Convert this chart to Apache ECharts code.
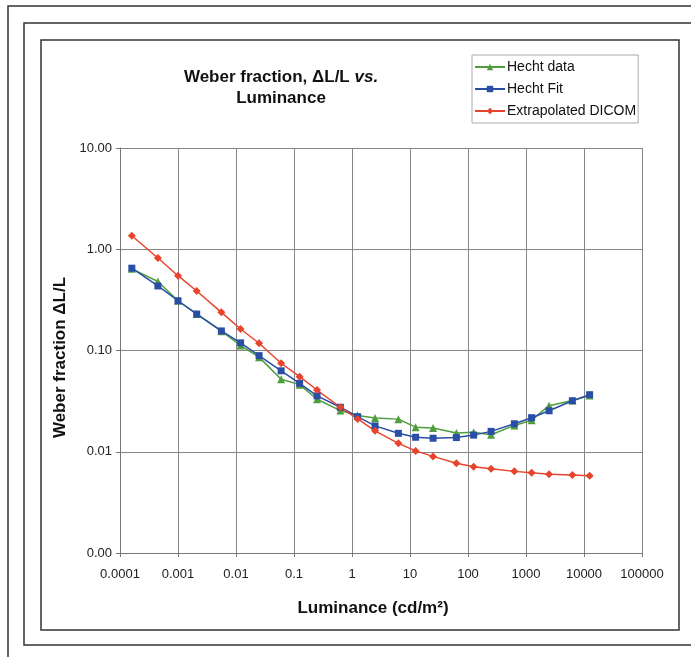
<!DOCTYPE html>
<html>
<head>
<meta charset="utf-8">
<title>Weber fraction vs Luminance</title>
<script src="https://cdn.jsdelivr.net/npm/echarts@6/dist/echarts.min.js"></script>
<style>
  html, body { margin: 0; padding: 0; background: #fff; }
  #chart { width: 691px; height: 657px; }
</style>
</head>
<body>
<div id="chart"></div>
<script>
// luminance values (cd/m2), shared by all three series
const luminance = [0.00016, 0.00045, 0.001, 0.0021, 0.0056, 0.012, 0.025, 0.06, 0.125, 0.25,
  0.63, 1.25, 2.5, 6.3, 12.5, 25, 63, 125, 250, 630, 1250, 2500, 6300, 12500];

const hechtData = [0.64, 0.48, 0.31, 0.23, 0.155, 0.112, 0.086, 0.052, 0.046, 0.033,
  0.0255, 0.0228, 0.0216, 0.021, 0.0175, 0.0172, 0.0153, 0.0156, 0.0147, 0.0182,
  0.0205, 0.0285, 0.032, 0.036];

const hechtFit = [0.65, 0.434, 0.31, 0.229, 0.156, 0.119, 0.089, 0.063, 0.0474, 0.0356,
  0.0275, 0.0222, 0.018, 0.0152, 0.0139, 0.0136, 0.0138, 0.0146, 0.0159, 0.0189,
  0.0217, 0.0254, 0.0319, 0.0366];

const dicom = [1.36, 0.82, 0.548, 0.387, 0.238, 0.163, 0.118, 0.0748, 0.0551, 0.0407,
  0.0275, 0.0211, 0.0161, 0.0121, 0.0102, 0.009, 0.0077, 0.0071, 0.0068, 0.0064,
  0.0062, 0.006, 0.0059, 0.0058];

const xTickLabels = ['0.0001', '0.001', '0.01', '0.1', '1', '10', '100', '1000', '10000', '100000'];
const yTickLabels = ['0.00', '0.01', '0.10', '1.00', '10.00'];

const chart = echarts.init(document.getElementById('chart'));

const pairs = (ys) => luminance.map((x, i) => [x, ys[i]]);
const font = 'Arial, "Liberation Sans", sans-serif';

const option = {
  animation: false,
  textStyle: { fontFamily: font },
  title: {
    left: 276,
    top: 62,
    textAlign: 'center',
    text: '{a|Weber fraction, ΔL/L }{b|vs.}\n{a|Luminance}',
    textStyle: {
      rich: {
        a: { fontSize: 17, fontWeight: 'bold', color: '#111', fontFamily: font, lineHeight: 21 },
        b: { fontSize: 17, fontWeight: 'bold', fontStyle: 'italic', color: '#111', fontFamily: font, lineHeight: 21 }
      }
    }
  },
  legend: {
    orient: 'vertical',
    left: 472,
    top: 55,
    padding: [5, 2, 5, 2],
    itemGap: 8,
    itemWidth: 30,
    itemHeight: 8,
    borderColor: '#aaa',
    borderWidth: 1,
    backgroundColor: '#fff',
    textStyle: { fontSize: 14, color: '#111', fontFamily: font, padding: [0, 0, 0, -3] },
    data: ['Hecht data', 'Hecht Fit', 'Extrapolated DICOM']
  },
  grid: { left: 120, right: 49, top: 148, bottom: 104 },
  xAxis: {
    type: 'log',
    logBase: 10,
    min: 0.0001,
    max: 100000,
    interval: 1,
    name: 'Luminance (cd/m²)',
    nameLocation: 'middle',
    nameGap: 47,
    nameTextStyle: { fontSize: 17, fontWeight: 'bold', color: '#111', fontFamily: font, padding: [0, 16, 0, 0] },
    axisLine: { lineStyle: { color: '#777' } },
    axisTick: { show: true, length: 4, lineStyle: { color: '#777' } },
    axisLabel: {
      margin: 15,
      fontSize: 13,
      color: '#222',
      formatter: (v) => xTickLabels[Math.round(Math.log10(v)) + 4]
    },
    splitLine: { show: true, lineStyle: { color: '#858585', width: 1 } },
    minorTick: { show: false }
  },
  yAxis: {
    type: 'log',
    logBase: 10,
    min: 0.001,
    max: 10,
    interval: 1,
    name: 'Weber fraction ΔL/L',
    nameLocation: 'middle',
    nameGap: 48,
    nameTextStyle: { fontSize: 17, fontWeight: 'bold', color: '#111', fontFamily: font, padding: [0, 14, 0, 0] },
    axisLine: { show: true, lineStyle: { color: '#777' } },
    axisTick: { show: true, length: 4, lineStyle: { color: '#777' } },
    axisLabel: {
      margin: 8,
      fontSize: 13,
      color: '#222',
      formatter: (v) => yTickLabels[Math.round(Math.log10(v)) + 3]
    },
    splitLine: { show: true, lineStyle: { color: '#858585', width: 1 } }
  },
  series: [
    {
      name: 'Hecht data',
      type: 'line',
      data: pairs(hechtData),
      symbol: 'triangle',
      symbolSize: 8,
      color: '#4f9d3d',
      lineStyle: { width: 1.5 }
    },
    {
      name: 'Hecht Fit',
      type: 'line',
      data: pairs(hechtFit),
      symbol: 'rect',
      symbolSize: 7,
      color: '#2a4da6',
      lineStyle: { width: 1.5 }
    },
    {
      name: 'Extrapolated DICOM',
      type: 'line',
      data: pairs(dicom),
      symbol: 'diamond',
      symbolSize: 8,
      color: '#e8432c',
      lineStyle: { width: 1.5 }
    }
  ],
  // the three nested frames around the figure
  graphic: [
    { type: 'rect', shape: { x: 8, y: 6, width: 700, height: 700 }, style: { fill: 'none', stroke: '#333', lineWidth: 1.5 }, silent: true },
    { type: 'rect', shape: { x: 24, y: 23, width: 700, height: 622 }, style: { fill: 'none', stroke: '#333', lineWidth: 1.5 }, silent: true },
    { type: 'rect', shape: { x: 41, y: 40, width: 638, height: 590 }, style: { fill: 'none', stroke: '#333', lineWidth: 1.5 }, silent: true }
  ]
};

chart.setOption(option);

window.addEventListener('resize', () => chart.resize());
</script>
</body>
</html>
